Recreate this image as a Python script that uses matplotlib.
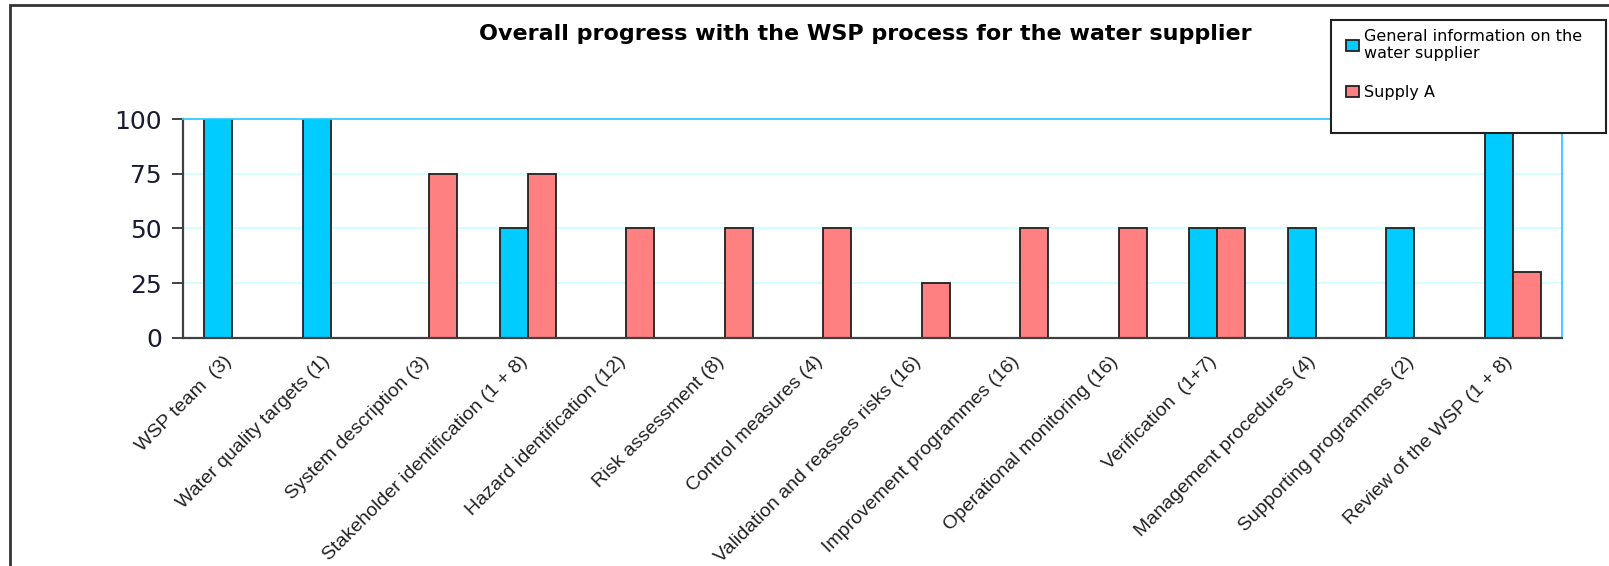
import numpy as np
import matplotlib
matplotlib.use("Agg")
import matplotlib.pyplot as plt
from matplotlib.patches import Rectangle
from matplotlib.transforms import ScaledTranslation

plt.rcParams['font.family'] = ['Liberation Sans', 'DejaVu Sans']

categories = ["WSP team  (3)", "Water quality targets (1)", "System description (3)",
              "Stakeholder identification (1 + 8)", "Hazard identification (12)",
              "Risk assessment (8)", "Control measures (4)",
              "Validation and reasses risks (16)", "Improvement programmes (16)",
              "Operational monitoring (16)", "Verification  (1+7)",
              "Management procedures (4)", "Supporting programmes (2)",
              "Review of the WSP (1 + 8)"]
general = [100, 100, 0, 50, 0, 0, 0, 0, 0, 0, 50, 50, 50, 100]
supply_a = [0, 0, 75, 75, 50, 50, 50, 25, 50, 50, 50, 0, 0, 30]
series_names = ["General information on the\nwater supplier", "Supply A"]

fig = plt.figure(figsize=(16.09, 5.66), dpi=100)
ax = fig.add_axes([0.1137, 0.4034, 0.8571, 0.3858])

x = np.arange(len(categories))
w = 0.284
b1 = ax.bar(x - w / 2, general, w, color='#00CCFF', edgecolor='#202020', linewidth=1.3,
            label=series_names[0])
b2 = ax.bar(x + w / 2, supply_a, w, color='#FF8080', edgecolor='#202020', linewidth=1.3,
            label=series_names[1])

ax.set_xlim(-0.5, len(categories) - 0.5)
ax.set_ylim(0, 100)
ax.set_yticks([0, 25, 50, 75, 100])
ax.tick_params(axis='y', labelsize=18, length=8, width=1.3, color='#333333', pad=7,
               labelcolor='#1a1a33')
for t in ax.get_yticklabels():
    t.set_family('DejaVu Sans')
ax.set_xticks(x)
ax.set_xticklabels(categories, rotation=45, ha='right', rotation_mode='anchor', fontsize=14,
                   color='#222222')
ax.tick_params(axis='x', length=0, pad=11)
shift = ScaledTranslation(-9 / 100, 0, fig.dpi_scale_trans)
for t in ax.get_xticklabels():
    t.set_transform(t.get_transform() + shift)
ax.yaxis.grid(True, color='#CCFFFF', linewidth=1.2)
ax.set_axisbelow(True)
for s in ['left', 'bottom']:
    ax.spines[s].set_color('#404040')
    ax.spines[s].set_linewidth(1.6)
for s in ['top', 'right']:
    ax.spines[s].set_color('#33CCFF')
    ax.spines[s].set_linewidth(1.3)

fig.text(0.5376, 0.94, "Overall progress with the WSP process for the water supplier",
         ha='center', va='center', fontsize=16, fontweight='bold', family='DejaVu Sans')

# legend box
fig.patches.append(Rectangle((1331 / 1609, 1 - 133 / 566), 275 / 1609, 113 / 566,
                             transform=fig.transFigure, facecolor='white',
                             edgecolor='#202020', linewidth=1.5, zorder=5))
leg = fig.legend(handles=[b1, b2], loc='upper left', bbox_to_anchor=(1346 / 1609, 1 - 29 / 566),
                 prop={'family': 'DejaVu Sans', 'size': 11.5}, frameon=False, handlelength=0.8,
                 handleheight=0.65, labelspacing=1.5, borderpad=0, handletextpad=0.35,
                 borderaxespad=0)
leg.set_zorder(6)

# outer chart frame (cut off on right and bottom)
fig.patches.append(Rectangle((10 / 1609, -0.1), 1.2, 1 - 5 / 566 + 0.1,
                             transform=fig.transFigure, fill=False,
                             edgecolor='#333333', linewidth=2))

fig.savefig("out.png", dpi=100)
